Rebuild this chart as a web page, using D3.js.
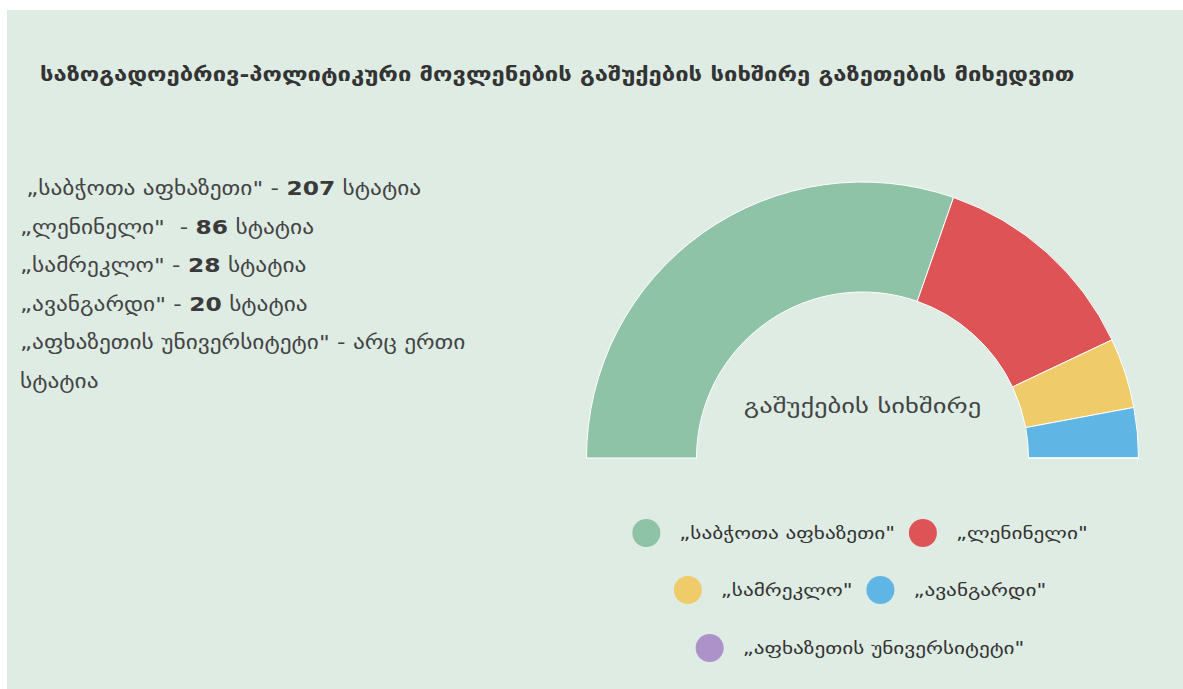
<!DOCTYPE html>
<html>
<head>
<meta charset="utf-8">
<script src="https://cdn.jsdelivr.net/npm/d3@7"></script>
<style>
  body { margin: 0; background: #fff; font-family: "DejaVu Sans", sans-serif; }
  #panel { position: absolute; left: 7px; top: 10px; width: 1176px; height: 679px; background: #deece4; }
  svg { position: absolute; left: 0; top: 0; }
</style>
</head>
<body>
<div id="panel"></div>
<svg id="chart" width="1183" height="689"></svg>
<script>
const title = "საზოგადოებრივ-პოლიტიკური მოვლენების გაშუქების სიხშირე გაზეთების მიხედვით";
const centerLabel = "გაშუქების სიხშირე";
const newspapers = ["„საბჭოთა აფხაზეთი\"", "„ლენინელი\"", "„სამრეკლო\"", "„ავანგარდი\"", "„აფხაზეთის უნივერსიტეტი\""];
const articleCounts = [207, 86, 28, 20, 0];
const colors = ["#8fc3a8", "#dd5356", "#f0cb69", "#5fb6e4", "#ad92c9"];
const legendRows = [[0, 1], [2, 3], [4]];

// georgian glyphs in DejaVu are narrower than the original font, stretch a bit
const sxNotes = 1.23;
const sxLegend = 1.25;

const svg = d3.select("#chart");

// stretched text: group at (x,y) scaled horizontally
function stext(parent, x, y, sxx) {
  return parent.append("g")
    .attr("transform", "translate(" + x + "," + y + ") scale(" + sxx + ",1)")
    .append("text");
}

const tt = stext(svg, 40, 81, 1)
  .attr("font-size", 19).attr("font-weight", "bold")
  .attr("fill", "#333")
  .text(title);
const tw = tt.node().getComputedTextLength();
d3.select(tt.node().parentNode).attr("transform", "translate(40,81) scale(" + (1035 / tw) + ",1)");

// left text block
const maxW = 470;
const notes = svg.append("g").attr("transform", "translate(20,0) scale(" + sxNotes + ",1)");

function wrapWords(str) {
  const probe = notes.append("text").attr("font-size", 19);
  const words = str.split(" ");
  const out = [];
  let cur = [];
  words.forEach(w => {
    probe.text(cur.concat([w]).join(" "));
    if (probe.node().getComputedTextLength() * sxNotes > maxW && cur.length > 0) {
      out.push(cur.join(" "));
      cur = [w];
    } else {
      cur.push(w);
    }
  });
  out.push(cur.join(" "));
  probe.remove();
  return out;
}

const lines = [];
newspapers.forEach((d, i) => {
  if (articleCounts[i] > 0) {
    lines.push([{ t: d + (i == 1 ? "\u00a0" : "") + " - " }, { t: String(articleCounts[i]), b: true }, { t: " სტატია" }]);
  } else {
    wrapWords(d + " - არც ერთი სტატია").forEach(s => lines.push([{ t: s }]));
  }
});

notes.selectAll(".note")
  .data(lines)
  .join("text")
    .attr("class", "note")
    .attr("x", (d, i) => i == 0 ? 5 : 0)
    .attr("y", (d, i) => 195 + i * 38.6)
    .attr("font-size", 19).attr("fill", "#444")
  .selectAll("tspan")
  .data(d => d)
  .join("tspan")
    .attr("font-weight", p => p.b ? "bold" : null)
    .attr("fill", p => p.b ? "#3a3a3a" : null)
    .text(p => p.t);

// half donut
const cx = 862.5, cy = 458;
const pie = d3.pie().sort(null)
  .startAngle(-Math.PI / 2).endAngle(Math.PI / 2)
  .value(d => d);
const arc = d3.arc().innerRadius(166).outerRadius(276);

const g = svg.append("g").attr("transform", "translate(" + cx + "," + cy + ")");
g.selectAll(".slice")
  .data(pie(articleCounts))
  .join("path")
    .attr("class", "slice")
    .attr("d", arc)
    .attr("fill", (d, i) => colors[i])
    .attr("stroke", "#fff")
    .attr("stroke-width", 1);

stext(g, 0, -45, 1.4)
  .attr("text-anchor", "middle")
  .attr("font-size", 19).attr("fill", "#444")
  .text(centerLabel);

// legend
const legendY = [533, 590, 648];
const r = 14, gapCircle = 19, gapItem = 14;
legendRows.forEach((rowItems, ri) => {
  const lg = svg.append("g");
  let x = 0;
  rowItems.forEach(i => {
    const item = lg.append("g").attr("transform", "translate(" + x + ",0)");
    item.append("circle").attr("cx", r).attr("cy", 0).attr("r", r).attr("fill", colors[i]);
    const t = stext(item, 2 * r + gapCircle, 6, sxLegend)
      .attr("font-size", 17).attr("fill", "#333")
      .text(newspapers[i]);
    x += 2 * r + gapCircle + t.node().getComputedTextLength() * sxLegend + gapItem;
  });
  const w = x - gapItem;
  lg.attr("transform", "translate(" + (860 - w / 2) + "," + legendY[ri] + ")");
});
</script>
</body>
</html>
